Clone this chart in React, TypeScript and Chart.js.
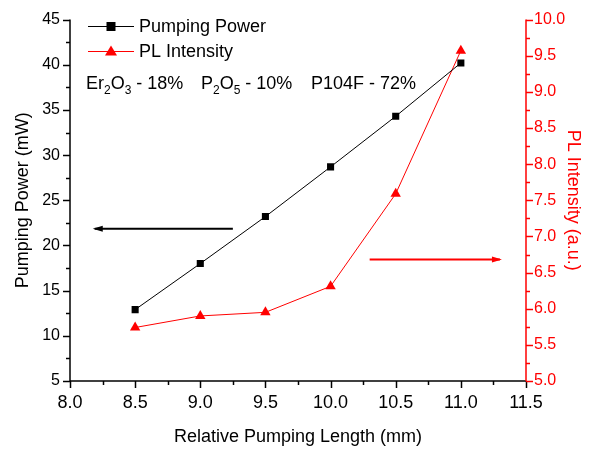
import { useEffect, useRef } from 'react';
import { Chart, registerables } from 'chart.js';

Chart.register(...registerables);

const lengths = [8.5, 9.0, 9.5, 10.0, 10.5, 11.0];
const pumpingPower = [12.9, 18.0, 23.2, 28.7, 34.3, 40.2];
const plIntensity = [5.74, 5.9, 5.95, 6.31, 7.59, 9.57];
const xTicks = { min: 8, max: 11.5, step: 0.5 };
const yTicks = { min: 5, max: 45, step: 5 };
const y1Ticks = { min: 5, max: 10, step: 0.5 };
const seriesNames = ['Pumping Power', 'PL Intensity'];
const FONT = '"Liberation Sans", Arial, sans-serif';

const overlay = {
  id: 'overlay',
  afterDraw(chart: any) {
    const ctx = chart.ctx;
    const { left, right, top, bottom } = chart.chartArea;
    const xs = chart.scales.x;
    const ys = chart.scales.y;
    const y1 = chart.scales.y1;
    ctx.save();
    ctx.lineWidth = 1.5;
    // left axis
    ctx.strokeStyle = '#000';
    ctx.beginPath();
    ctx.moveTo(left, top);
    ctx.lineTo(left, bottom);
    ctx.stroke();
    for (let v = yTicks.min; v <= yTicks.max + 1e-9; v += yTicks.step / 2) {
      const p = Math.round(ys.getPixelForValue(v)) + 0.5;
      const major = Math.abs(v / yTicks.step - Math.round(v / yTicks.step)) < 1e-6;
      ctx.beginPath();
      ctx.moveTo(left, p);
      ctx.lineTo(left - (major ? 7 : 4), p);
      ctx.stroke();
    }
    // bottom axis
    ctx.beginPath();
    ctx.moveTo(left, bottom);
    ctx.lineTo(right, bottom);
    ctx.stroke();
    for (let v = xTicks.min; v <= xTicks.max + 1e-9; v += xTicks.step / 2) {
      const p = Math.round(xs.getPixelForValue(v)) + 0.5;
      const major = Math.abs(v / xTicks.step - Math.round(v / xTicks.step)) < 1e-6;
      ctx.beginPath();
      ctx.moveTo(p, bottom);
      ctx.lineTo(p, bottom + (major ? 7 : 4));
      ctx.stroke();
    }
    // right axis
    ctx.strokeStyle = '#ff0000';
    ctx.beginPath();
    ctx.moveTo(right, top);
    ctx.lineTo(right, bottom);
    ctx.stroke();
    for (let v = y1Ticks.min; v <= y1Ticks.max + 1e-9; v += y1Ticks.step / 2) {
      const p = Math.round(y1.getPixelForValue(v)) + 0.5;
      const major = Math.abs(v / y1Ticks.step - Math.round(v / y1Ticks.step)) < 1e-6;
      ctx.beginPath();
      ctx.moveTo(right, p);
      ctx.lineTo(right + (major ? 7 : 4), p);
      ctx.stroke();
    }

    // arrows
    const arrow = (x0: number, x1: number, y: number, color: string) => {
      ctx.strokeStyle = color;
      ctx.fillStyle = color;
      ctx.lineWidth = 2;
      ctx.beginPath();
      ctx.moveTo(x0, y);
      ctx.lineTo(x1, y);
      ctx.stroke();
      const d = Math.sign(x1 - x0);
      ctx.beginPath();
      ctx.moveTo(x1 + d * 2, y);
      ctx.lineTo(x1 - d * 8, y - 3);
      ctx.lineTo(x1 - d * 8, y + 3);
      ctx.closePath();
      ctx.fill();
    };
    arrow(xs.getPixelForValue(9.25), xs.getPixelForValue(8.19), ys.getPixelForValue(21.85), '#000');
    arrow(xs.getPixelForValue(10.3), xs.getPixelForValue(11.3), y1.getPixelForValue(6.68), '#ff0000');

    // legend
    const lx0 = left + 18;
    const lx1 = left + 64;
    const lmid = (lx0 + lx1) / 2;
    ctx.lineWidth = 1;
    ctx.strokeStyle = '#000';
    ctx.beginPath();
    ctx.moveTo(lx0, 26.5);
    ctx.lineTo(lx1, 26.5);
    ctx.stroke();
    ctx.fillStyle = '#000';
    ctx.fillRect(lmid - 4.5, 26.5 - 4.5, 9, 9);
    ctx.strokeStyle = '#ff0000';
    ctx.beginPath();
    ctx.moveTo(lx0, 51.5);
    ctx.lineTo(lx1, 51.5);
    ctx.stroke();
    ctx.fillStyle = '#ff0000';
    ctx.beginPath();
    ctx.moveTo(lmid, 51.5 - 6);
    ctx.lineTo(lmid + 6, 51.5 + 4);
    ctx.lineTo(lmid - 6, 51.5 + 4);
    ctx.closePath();
    ctx.fill();
    ctx.fillStyle = '#000';
    ctx.font = `18px ${FONT}`;
    ctx.textBaseline = 'middle';
    ctx.textAlign = 'left';
    ctx.fillText(seriesNames[0], lx1 + 5, 27);
    ctx.fillText(seriesNames[1], lx1 + 5, 52);

    // composition annotation with subscripts
    const parts = (x: number, segs: [string, boolean][]) => {
      let cx = x;
      ctx.textBaseline = 'alphabetic';
      for (const [t, sub] of segs) {
        ctx.font = sub ? `12px ${FONT}` : `18px ${FONT}`;
        ctx.fillText(t, cx, sub ? 94 : 89);
        cx += ctx.measureText(t).width;
      }
    };
    parts(86, [['Er', false], ['2', true], ['O', false], ['3', true], [' - 18%', false]]);
    parts(201, [['P', false], ['2', true], ['O', false], ['5', true], [' - 10%', false]]);
    parts(311, [['P104F - 72%', false]]);
    ctx.restore();
  },
};

export default function App() {
  const ref = useRef<HTMLCanvasElement>(null);
  useEffect(() => {
    document.body.style.margin = '0';
    const chart = new Chart(ref.current as HTMLCanvasElement, {
      type: 'line',
      data: {
        datasets: [
          {
            label: seriesNames[0],
            data: lengths.map((x, i) => ({ x, y: pumpingPower[i] })),
            borderColor: '#000',
            backgroundColor: '#000',
            borderWidth: 1,
            pointStyle: 'rect',
            pointRadius: 5,
            pointBorderWidth: 0,
            yAxisID: 'y',
          },
          {
            label: seriesNames[1],
            data: lengths.map((x, i) => ({ x, y: plIntensity[i] })),
            borderColor: '#ff0000',
            backgroundColor: '#ff0000',
            borderWidth: 1,
            pointStyle: 'triangle',
            pointRadius: 6,
            pointBorderWidth: 0,
            yAxisID: 'y1',
          },
        ],
      },
      options: {
        animation: false,
        responsive: false,
        layout: { padding: { top: 18, left: 0, right: 0, bottom: 0 } },
        plugins: { legend: { display: false }, tooltip: { enabled: false } },
        scales: {
          x: {
            type: 'linear',
            min: xTicks.min,
            max: xTicks.max,
            grid: { display: false, drawTicks: false },
            border: { display: false },
            afterFit: (s: any) => { s.height = 68; },
            ticks: {
              stepSize: xTicks.step,
              color: '#000',
              padding: 11,
              font: { family: FONT, size: 18 },
              callback: (v: any) => Number(v).toFixed(1),
            },
            title: {
              display: true,
              text: 'Relative Pumping Length (mm)',
              color: '#000',
              font: { family: FONT, size: 18 },
              padding: { top: 0, bottom: 1 },
            },
          },
          y: {
            position: 'left',
            min: yTicks.min,
            max: yTicks.max,
            grid: { display: false, drawTicks: false },
            border: { display: false },
            afterFit: (s: any) => { s.width = 70; },
            ticks: {
              stepSize: yTicks.step,
              color: '#000',
              padding: 10,
              font: { family: FONT, size: 16 },
            },
            title: {
              display: true,
              text: 'Pumping Power (mW)',
              color: '#000',
              font: { family: FONT, size: 18 },
              padding: { top: 12, bottom: 0 },
            },
          },
          y1: {
            position: 'right',
            min: y1Ticks.min,
            max: y1Ticks.max,
            grid: { display: false, drawTicks: false },
            border: { display: false },
            afterFit: (s: any) => { s.width = 64; },
            ticks: {
              stepSize: y1Ticks.step,
              color: '#ff0000',
              padding: 8,
              font: { family: FONT, size: 16 },
              callback: (v: any) => Number(v).toFixed(1),
            },
            title: {
              display: true,
              text: 'PL Intensity (a.u.)',
              color: '#ff0000',
              font: { family: FONT, size: 18 },
              padding: { top: 6, bottom: 0 },
            },
          },
        },
      },
      plugins: [overlay],
    });
    return () => chart.destroy();
  }, []);
  return (
    <div style={{ width: 590, height: 449, background: '#fff' }}>
      <canvas ref={ref} width={590} height={449} style={{ display: 'block' }} />
    </div>
  );
}
